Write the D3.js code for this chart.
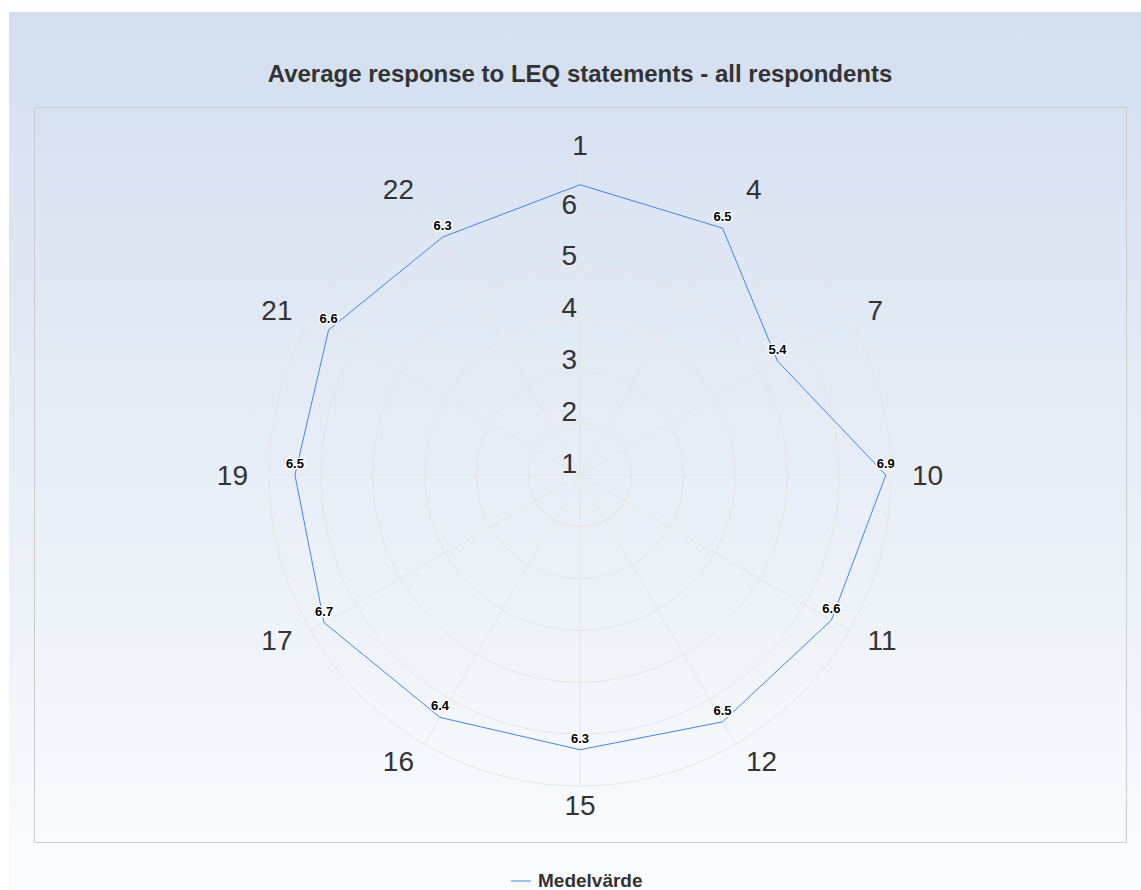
<!DOCTYPE html>
<html>
<head>
<meta charset="utf-8">
<script src="https://cdnjs.cloudflare.com/ajax/libs/d3/7.8.5/d3.min.js"></script>
<style>
  body { margin: 0; background: #fff; }
  svg { display: block; font-family: "Liberation Sans", Arial, sans-serif; }
</style>
</head>
<body>
<div id="chart"></div>
<script>
// data
const categories = ["1", "4", "7", "10", "11", "12", "15", "16", "17", "19", "21", "22"];
const values = [6.6, 6.5, 5.4, 6.9, 6.6, 6.5, 6.3, 6.4, 6.7, 6.5, 6.6, 6.3];
const showLabel = [false, true, true, true, true, true, true, true, true, true, true, true];
const ticks = [1, 2, 3, 4, 5, 6, 7];
const tickLabels = ["1", "2", "3", "4", "5", "6"];
const seriesName = "Medelvärde";
const title = "Average response to LEQ statements - all respondents";

const width = 1141, height = 890;
const cx = 580, cy = 475, radius = 311;
const lineColor = "#3f87f2";

const svg = d3.select("#chart").append("svg")
    .attr("width", width)
    .attr("height", height);

const defs = svg.append("defs");
const grad = defs.append("linearGradient")
    .attr("id", "bg")
    .attr("x1", 0).attr("y1", 0).attr("x2", 0).attr("y2", 1);
grad.append("stop").attr("offset", "0%").attr("stop-color", "#d3dfef");
grad.append("stop").attr("offset", "100%").attr("stop-color", "#fbfcfe");

svg.append("rect")
    .attr("x", 9).attr("y", 12)
    .attr("width", width - 9).attr("height", height - 12)
    .attr("fill", "url(#bg)");

svg.append("rect")
    .attr("x", 34.5).attr("y", 107.5)
    .attr("width", 1092).attr("height", 735)
    .attr("fill", "none")
    .attr("stroke", "#cccccc");

svg.append("text")
    .attr("x", cx).attr("y", 82)
    .attr("text-anchor", "middle")
    .attr("font-size", 24)
    .attr("font-weight", "bold")
    .attr("fill", "#333")
    .text(title);

const r = d3.scaleLinear().domain([1, 7]).range([0, radius]);
const step = 2 * Math.PI / categories.length;
const ang = (c, i) => i * step;

const g = svg.append("g").attr("transform", `translate(${cx},${cy})`);

// rings
g.selectAll("circle.ring")
    .data(ticks.slice(1))
    .join("circle")
    .attr("class", "ring")
    .attr("r", d => r(d))
    .attr("fill", "none")
    .attr("stroke", "#e6e6e6")
    .attr("stroke-width", 1);

// spokes
g.selectAll("line.spoke")
    .data(categories)
    .join("line")
    .attr("class", "spoke")
    .attr("x1", 0).attr("y1", 0)
    .attr("x2", (d, i) => r(7) * Math.sin(ang(d, i)))
    .attr("y2", (d, i) => -r(7) * Math.cos(ang(d, i)))
    .attr("stroke", "#e6e6e6")
    .attr("stroke-width", 1);

// tick labels
g.selectAll("text.tick")
    .data(tickLabels)
    .join("text")
    .attr("class", "tick")
    .attr("x", -3)
    .attr("y", d => -r(+d) - 12)
    .attr("dy", "0.35em")
    .attr("text-anchor", "end")
    .attr("font-size", 28)
    .attr("fill", "#333")
    .text(d => d);

// category labels
g.selectAll("text.cat")
    .data(categories)
    .join("text")
    .attr("class", "cat")
    .attr("x", (d, i) => 332 * Math.sin(ang(d, i)))
    .attr("y", (d, i) => -330 * Math.cos(ang(d, i)))
    .attr("dy", "0.35em")
    .attr("text-anchor", (d, i) => {
        const s = Math.sin(ang(d, i));
        return s > 0.1 ? "start" : (s < -0.1 ? "end" : "middle");
    })
    .attr("font-size", 28)
    .attr("fill", "#333")
    .text(d => d);

// series
const line = d3.lineRadial()
    .angle((d, i) => i * step)
    .radius(d => r(d))
    .curve(d3.curveLinearClosed);

g.append("path")
    .datum(values)
    .attr("d", line)
    .attr("fill", "none")
    .attr("stroke", lineColor)
    .attr("stroke-width", 1);

// data labels
g.selectAll("text.dl")
    .data(values.map((v, i) => ({ v, i })).filter(d => showLabel[d.i]))
    .join("text")
    .attr("class", "dl")
    .attr("x", d => r(d.v) * Math.sin(d.i * step))
    .attr("y", d => -r(d.v) * Math.cos(d.i * step) - 7)
    .attr("text-anchor", "middle")
    .attr("font-size", 13)
    .attr("font-weight", "bold")
    .attr("fill", "#000")
    .attr("stroke", "#fff")
    .attr("stroke-width", 3)
    .attr("stroke-linejoin", "round")
    .attr("paint-order", "stroke")
    .text(d => d.v.toFixed(1));

// legend
const lg = svg.append("g").attr("transform", "translate(511,881)");
lg.append("line")
    .attr("x1", 0).attr("x2", 20)
    .attr("y1", 0).attr("y2", 0)
    .attr("stroke", lineColor)
    .attr("stroke-width", 1);
lg.append("text")
    .attr("x", 27).attr("y", 6)
    .attr("font-size", 19)
    .attr("font-weight", "bold")
    .attr("fill", "#333")
    .text(seriesName);
</script>
</body>
</html>
